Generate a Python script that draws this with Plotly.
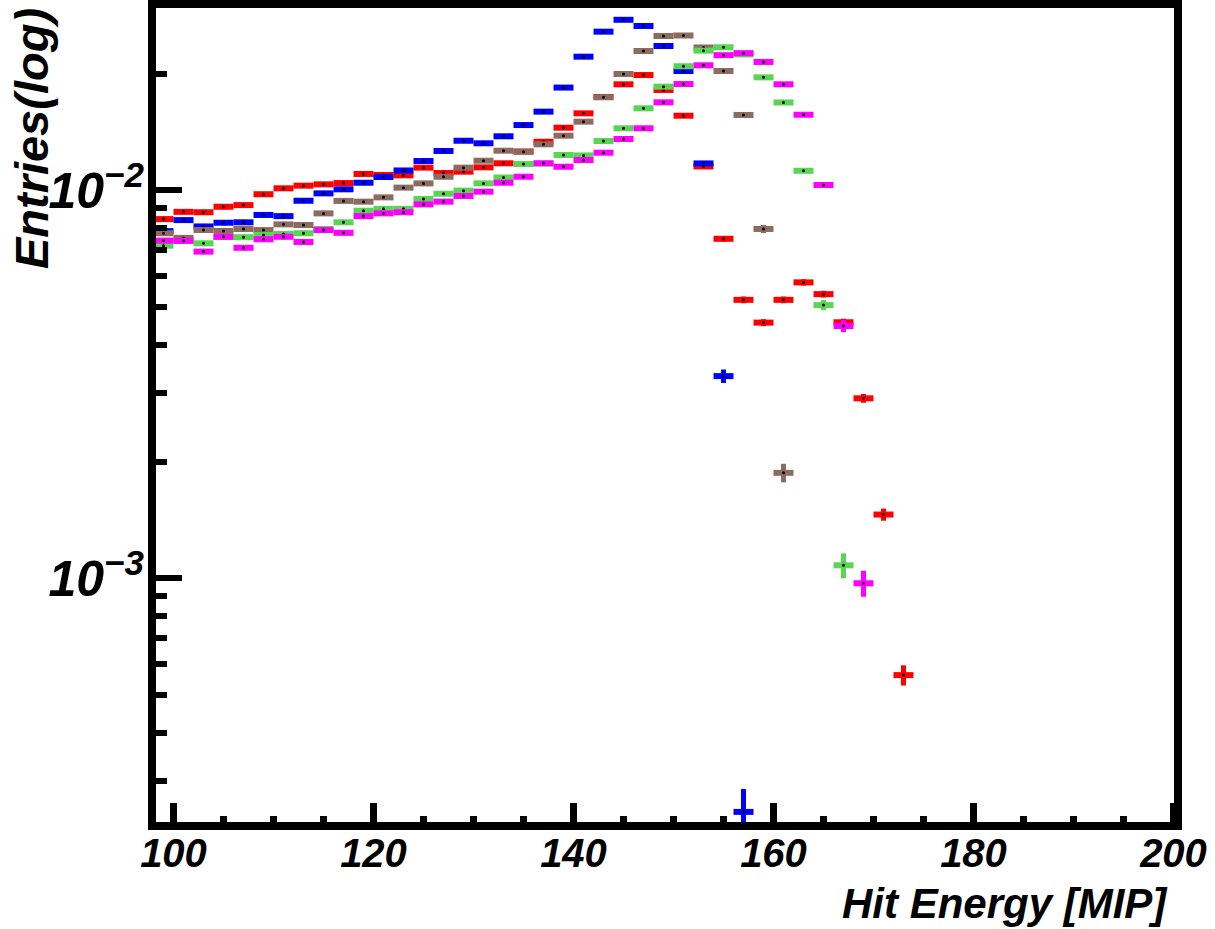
import plotly.graph_objects as go

# bin centres of the 2 MIP wide histogram bins
bin_centers = [99, 101, 103, 105, 107, 109, 111, 113, 115, 117,
               119, 121, 123, 125, 127, 129, 131, 133, 135, 137,
               139, 141, 143, 145, 147, 149, 151, 153, 155, 157,
               159, 161, 163, 165, 167, 169, 171, 173]

blue = [0.00785, 0.00838, 0.00807, 0.00825, 0.00827, 0.00864, 0.00858, 0.0094, 0.00982, 0.01006,
        0.01046, 0.01082, 0.01125, 0.0119, 0.01263, 0.01342, 0.01322, 0.01378, 0.01473, 0.01595,
        0.0184, 0.0221, 0.02564, 0.02751, 0.02652, 0.02355, 0.0203, 0.01173, 0.00332, 0.00025]
red = [0.00843, 0.0088, 0.00878, 0.00907, 0.00916, 0.00977, 0.01012, 0.01028, 0.01036, 0.01044,
       0.01102, 0.01095, 0.01093, 0.01144, 0.01108, 0.01117, 0.01146, 0.01174, 0.01259, 0.01334,
       0.0145, 0.01579, 0.0174, 0.01876, 0.01982, 0.01814, 0.01557, 0.01152, 0.0075, 0.00522,
       0.00456, 0.00522, 0.00579, 0.0054, 0.00457, 0.00291, 0.00146, 0.000563]
brown = [0.00775, 0.00754, 0.0079, 0.00786, 0.00795, 0.0079, 0.00817, 0.00814, 0.00872, 0.00939,
         0.00935, 0.00959, 0.01016, 0.01042, 0.01084, 0.01144, 0.01192, 0.01265, 0.01257, 0.01314,
         0.01383, 0.01503, 0.01737, 0.01994, 0.02286, 0.02499, 0.02506, 0.02334, 0.0203, 0.01564,
         0.00795, 0.00187]
green = [0.0072, 0.0074, 0.0073, 0.00758, 0.00757, 0.00767, 0.00772, 0.00775, 0.00795, 0.00827,
         0.00886, 0.00896, 0.00896, 0.0095, 0.0098, 0.00998, 0.01042, 0.01079, 0.01169, 0.01172,
         0.01233, 0.0123, 0.0134, 0.01445, 0.01627, 0.0185, 0.02088, 0.02291, 0.02337, 0.0224,
         0.01955, 0.01684, 0.01123, 0.00506, 0.00108]
magenta = [0.00742, 0.00741, 0.00695, 0.00759, 0.00711, 0.00748, 0.00759, 0.00736, 0.0079, 0.00777,
           0.00858, 0.00872, 0.00878, 0.0092, 0.00935, 0.00967, 0.00992, 0.01046, 0.01084, 0.01174,
           0.0115, 0.01197, 0.0125, 0.01356, 0.01445, 0.01686, 0.01879, 0.021, 0.0223, 0.02257,
           0.02142, 0.01876, 0.01566, 0.01032, 0.00447, 0.000971]

# relative statistical errors in percent
blue_err = [1.5, 1.5, 1.5, 1.5, 1.5, 1.5, 1.5, 1.5, 1.5, 1.5,
            1.4, 1.4, 1.4, 1.4, 1.3, 1.3, 1.3, 1.3, 1.2, 1.2,
            1.1, 1.0, 1.0, 0.9, 1.0, 1.0, 1.1, 1.5, 4.0, 14.6]
red_err = [1.5, 1.5, 1.5, 1.5, 1.5, 1.4, 1.4, 1.4, 1.4, 1.4,
           1.4, 1.4, 1.4, 1.4, 1.4, 1.4, 1.4, 1.3, 1.3, 1.3,
           1.2, 1.2, 1.1, 1.1, 1.1, 1.1, 1.2, 1.4, 1.7, 2.0,
           2.1, 2.0, 1.9, 2.0, 2.1, 2.6, 3.6, 6.0]
brown_err = [1.5, 1.5, 1.5, 1.5, 1.5, 1.5, 1.5, 1.5, 1.5, 1.4,
             1.4, 1.4, 1.4, 1.4, 1.4, 1.3, 1.3, 1.3, 1.3, 1.3,
             1.2, 1.2, 1.1, 1.1, 1.0, 1.0, 1.0, 1.0, 1.1, 1.2,
             2.4, 5.5]
green_err = [1.6, 1.6, 1.6, 1.6, 1.6, 1.6, 1.6, 1.6, 1.5, 1.5,
             1.5, 1.5, 1.5, 1.5, 1.4, 1.4, 1.4, 1.4, 1.3, 1.3,
             1.3, 1.3, 1.2, 1.2, 1.1, 1.1, 1.0, 1.0, 1.0, 1.0,
             1.1, 1.1, 1.3, 3.0, 7.4]
magenta_err = [1.6, 1.6, 1.6, 1.6, 1.6, 1.6, 1.6, 1.6, 1.5, 1.5,
               1.5, 1.5, 1.5, 1.5, 1.5, 1.4, 1.4, 1.4, 1.4, 1.3,
               1.3, 1.3, 1.3, 1.2, 1.2, 1.1, 1.1, 1.0, 1.0, 1.0,
               1.0, 1.1, 1.2, 1.4, 3.6, 7.7]

series = [
    ("red", red, red_err, "#ff0000"),
    ("blue", blue, blue_err, "#0000ff"),
    ("brown", brown, brown_err, "#8c6c60"),
    ("green", green, green_err, "#59d454"),
    ("magenta", magenta, magenta_err, "#ff00ff"),
]

x_tick_vals = [100, 120, 140, 160, 180, 200]
x_minor_vals = [105, 110, 115, 125, 130, 135, 145, 150, 155, 165, 170, 175, 185, 190, 195]
y_tick_vals = [0.001, 0.01]
y_tick_text = ["10<sup>\u22123</sup>", "10<sup>\u22122</sup>"]
y_minor_vals = [0.0003, 0.0004, 0.0005, 0.0006, 0.0007, 0.0008, 0.0009,
                0.002, 0.003, 0.004, 0.005, 0.006, 0.007, 0.008, 0.009,
                0.02, 0.03]

FONT = "Liberation Sans, Arial, sans-serif"

fig = go.Figure()
for name, vals, errs, color in series:
    xs = bin_centers[:len(vals)]
    fig.add_trace(go.Scatter(
        x=xs,
        y=vals,
        mode="markers",
        name=name,
        marker=dict(color="black", size=3),
        error_x=dict(type="constant", value=1, color=color, thickness=6, width=0),
        error_y=dict(type="data", array=[v * e / 100 for v, e in zip(vals, errs)],
                     color=color, thickness=5, width=0),
        showlegend=False,
        cliponaxis=True,
    ))

fig.update_layout(
    width=1215,
    height=929,
    margin=dict(l=152, r=37, t=4, b=103),
    paper_bgcolor="white",
    plot_bgcolor="white",
    font=dict(family=FONT, color="black"),
    shapes=[dict(type="rect", xref="paper", yref="paper", x0=0, x1=1, y0=0, y1=1,
                 line=dict(color="black", width=8), layer="above")],
    annotations=[
        dict(text="Entries(log)", xref="paper", yref="paper", x=-0.118, y=0.998,
             xanchor="center", yanchor="top", textangle=-90, showarrow=False,
             font=dict(family=FONT, size=47, weight="bold", style="italic")),
        dict(text="Hit Energy [MIP]", xref="paper", yref="paper", x=0.992, y=-0.094,
             xanchor="right", yanchor="middle", showarrow=False,
             font=dict(family=FONT, size=42, weight="bold", style="italic")),
    ],
)

fig.update_xaxes(
    range=[97.85, 200.45],
    showgrid=False, zeroline=False, showline=False,
    tickmode="array", tickvals=x_tick_vals,
    ticks="inside", ticklen=23, tickwidth=7, tickcolor="black",
    ticklabelstandoff=0,
    tickfont=dict(family=FONT, size=40, weight="bold", style="italic"),
    minor=dict(tickmode="array", tickvals=x_minor_vals, ticks="inside",
               ticklen=10, tickwidth=7, tickcolor="black", showgrid=False),
)
fig.update_yaxes(
    type="log",
    range=[-3.6384, -1.5198],
    showgrid=False, zeroline=False, showline=False,
    tickmode="array", tickvals=y_tick_vals, ticktext=y_tick_text,
    ticks="inside", ticklen=30, tickwidth=6, tickcolor="black",
    ticklabelstandoff=7,
    tickfont=dict(family=FONT, size=50, weight="bold", style="italic"),
    minor=dict(tickmode="array", tickvals=y_minor_vals, ticks="inside",
               ticklen=15, tickwidth=6, tickcolor="black", showgrid=False),
)

# drop the default 8px page margin so the figure sits at the window's corner
fig.write_html("out.html", config={"displayModeBar": False},
               post_script="document.body.style.margin='0';")
